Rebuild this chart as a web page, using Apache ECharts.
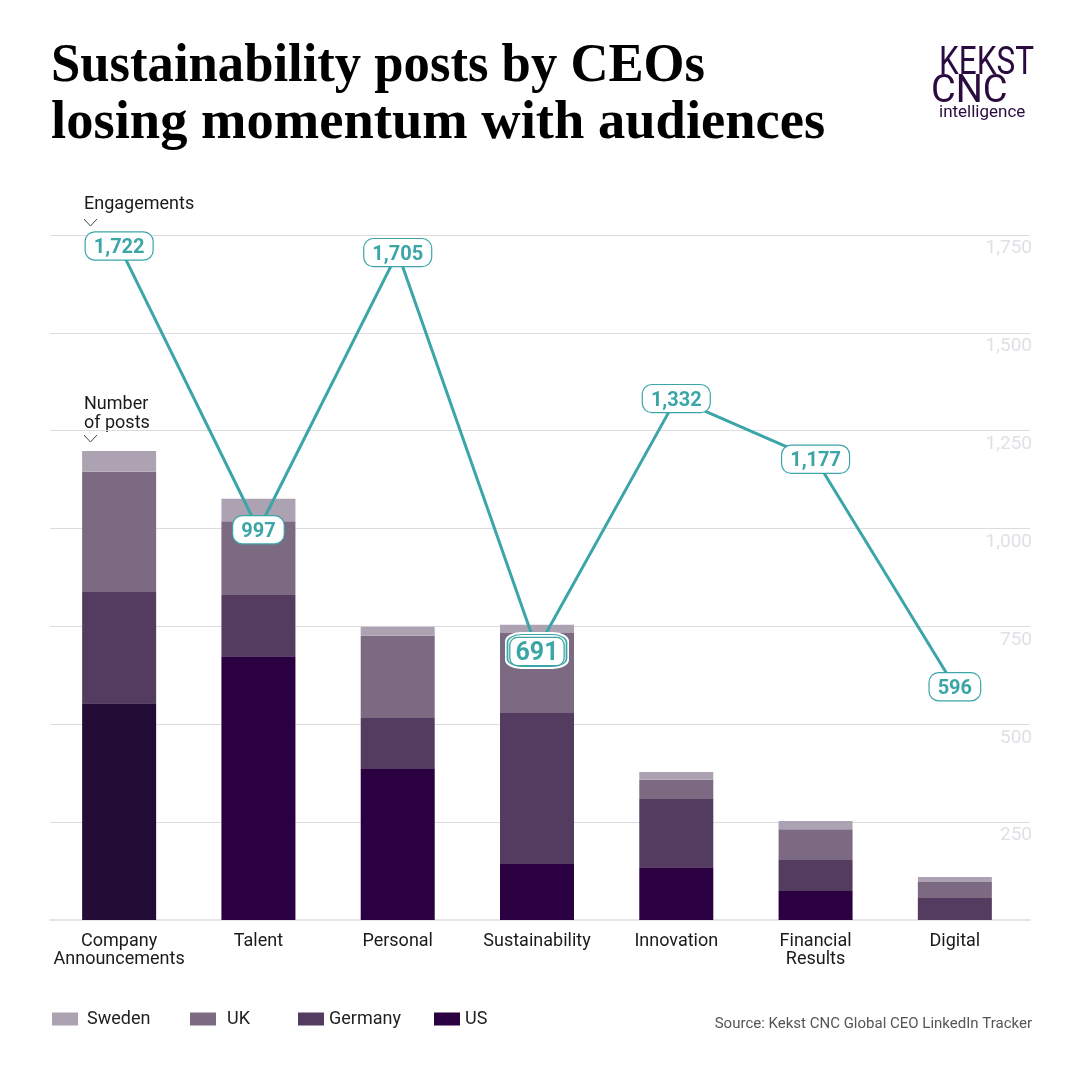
<!DOCTYPE html>
<html>
<head>
<meta charset="utf-8">
<style>
  html, body { margin: 0; padding: 0; background: #fff; }
  #chart { width: 1080px; height: 1080px; }
</style>
<script src="https://cdn.jsdelivr.net/npm/echarts@6/dist/echarts.min.js"></script>
</head>
<body>
<div id="chart"></div>
<script>
var categories = ['Company\nAnnouncements', 'Talent', 'Personal', 'Sustainability', 'Innovation', 'Financial\nResults', 'Digital'];
var usPosts = [554, 674, 386, 143, 135, 74, 0];
var germanyPosts = [286, 156, 130, 386, 174, 79, 56];
var ukPosts = [305, 189, 210, 204, 49, 79, 41];
var swedenPosts = [53, 57, 23, 21, 20, 21, 13];
var engagements = [1722, 997, 1705, 691, 1332, 1177, 596];
var highlighted = ['-', '-', '-', 691, '-', '-', '-'];
var axisTicks = [0, 250, 500, 750, 1000, 1250, 1500, 1750];

var TEAL = '#3ba5a8';
var myChart = echarts.init(document.getElementById('chart'), null, { renderer: 'canvas' });

function barSeries(name, data, color) {
  return {
    type: 'bar', name: name, stack: 'posts', data: data, barWidth: 74,
    xAxisIndex: 0, yAxisIndex: 0, itemStyle: { color: color }, z: 2
  };
}

function legendItem(name, left, textGap) {
  return {
    data: [name], left: left, top: 1010, padding: 0, itemWidth: 26, itemHeight: 13, icon: 'rect',
    selectedMode: false,
    textStyle: { fontFamily: 'Roboto', fontSize: 18, color: '#222', padding: [3, 0, 0, textGap] }
  };
}

function textEl(text, x, y, size, opts) {
  return {
    type: 'text', x: x, y: y, scaleX: (opts && opts.scaleX) || 1,
    style: {
      text: text, fontFamily: (opts && opts.family) || 'Roboto', fontSize: size,
      fontWeight: (opts && opts.weight) || 400, fill: (opts && opts.color) || '#1a1a1a',
      align: (opts && opts.align) || 'left', verticalAlign: 'middle', lineHeight: opts && opts.lineHeight
    }
  };
}

function chevron(x, y) {
  return {
    type: 'polyline',
    shape: { points: [[x, y], [x + 6.5, y + 7], [x + 13, y]] },
    style: { stroke: '#444', lineWidth: 1, fill: null }
  };
}

var usBars = usPosts.map(function (v, i) {
  return i === 0 ? { value: v, itemStyle: { color: '#230c35' } } : v;
});

// first pill sits a little left of its point in the original
var lineData = engagements.map(function (v, i) {
  return i === 0 ? { value: v, label: { offset: [-2, 1] } } : v;
});

var option = {
  backgroundColor: '#fff',
  animation: false,
  legend: [legendItem('Sweden', 52, 4), legendItem('UK', 190, 6), legendItem('Germany', 298, 0), legendItem('US', 434, 0)],
  grid: [
    { left: 49.5, right: 55.5, top: 235, bottom: 160 },
    { left: 50, right: 50, top: 235, bottom: 160 }
  ],
  xAxis: [
    {
      type: 'category', gridIndex: 0, data: categories,
      axisLine: { show: false }, axisTick: { show: false },
      axisLabel: { fontFamily: 'Roboto', fontSize: 18, color: '#1a1a1a', lineHeight: 18, margin: 12, interval: 0 }
    },
    {
      type: 'category', gridIndex: 1, data: categories,
      axisLine: { show: true, lineStyle: { color: '#e6e6ea', width: 2 } },
      axisTick: { show: false }, axisLabel: { show: false }
    }
  ],
  yAxis: [
    {
      type: 'value', gridIndex: 0, min: 0, max: 1750, interval: 250,
      axisLine: { show: false }, axisTick: { show: false },
      axisLabel: { show: false }, splitLine: { show: false }
    },
    {
      type: 'value', gridIndex: 1, min: 0, max: 1750, interval: 250, position: 'right',
      axisLine: { show: false }, axisTick: { show: false },
      splitLine: { show: true, lineStyle: { color: '#dcdcdf', width: 1 } },
      axisLabel: {
        inside: true, margin: -2, fontFamily: 'Roboto', fontSize: 19, color: '#e0e0e6',
        align: 'right', verticalAlign: 'top', padding: [4, 0, 0, 0],
        formatter: function (v) {
          return axisTicks.indexOf(v) > 0 ? v.toLocaleString('en-US') : '';
        }
      }
    }
  ],
  series: [
    barSeries('US', usBars, '#2a0040'),
    barSeries('Germany', germanyPosts, '#533c60'),
    barSeries('UK', ukPosts, '#7b6a82'),
    barSeries('Sweden', swedenPosts, '#aca2b2'),
    {
      type: 'line', name: 'Engagements', data: lineData, z: 5,
      xAxisIndex: 0, yAxisIndex: 0, symbol: 'circle', symbolSize: 1, showSymbol: true, showAllSymbol: true,
      itemStyle: { color: TEAL },
      lineStyle: { color: TEAL, width: 3 },
      labelLayout: { hideOverlap: false },
      label: {
        show: true, position: 'inside', offset: [0, 1],
        backgroundColor: '#fff', borderColor: TEAL, borderWidth: 1.2, borderRadius: 9, padding: [0, 8, 0, 8],
        rich: {
          v: { fontFamily: 'Roboto', fontWeight: 700, fontSize: 20, color: TEAL, height: 23, padding: [4, 0, 0, 0], verticalAlign: 'bottom' }
        },
        formatter: function (p) { return '{v|' + p.value.toLocaleString('en-US') + '}'; }
      }
    },
    {
      // white ring under the double pill
      type: 'scatter', name: 'Halo', data: highlighted, z: 6,
      xAxisIndex: 0, yAxisIndex: 0, symbol: 'roundRect', symbolSize: [64, 37], symbolOffset: [0, 1],
      itemStyle: { color: '#fff', opacity: 1 }
    },
    {
      type: 'scatter', name: 'Highlight', data: highlighted, z: 7,
      xAxisIndex: 0, yAxisIndex: 0, symbol: 'roundRect', symbolSize: [59, 32], symbolOffset: [0, 1],
      itemStyle: { color: '#fff', borderColor: TEAL, borderWidth: 1.3, opacity: 1 },
      label: {
        show: true, position: 'inside', offset: [0, 1],
        backgroundColor: '#fff', borderColor: TEAL, borderWidth: 1.3, borderRadius: 7, padding: [0, 5, 0, 5],
        rich: {
          v: { fontFamily: 'Roboto', fontWeight: 700, fontSize: 25, color: TEAL, height: 23, padding: [4, 0, 0, 0], verticalAlign: 'bottom' }
        },
        formatter: function (p) { return '{v|' + p.value + '}'; }
      }
    }
  ],
  graphic: [
    textEl('Sustainability posts by CEOs', 51, 67, 54, { family: 'Liberation Serif', weight: 700, color: '#000', scaleX: 0.975 }),
    textEl('losing momentum with audiences', 51, 124, 54, { family: 'Liberation Serif', weight: 700, color: '#000', scaleX: 1.01 }),
    textEl('KEKST', 939, 64, 38, { color: '#2a0a3f', scaleX: 0.83 }),
    textEl('CNC', 931, 92, 38, { color: '#2a0a3f', scaleX: 1 }),
    textEl('intelligence', 939, 113, 17, { color: '#2a0a3f' }),
    textEl('Engagements', 84, 204, 18),
    chevron(84, 219),
    textEl('Number\nof posts', 84, 414, 18, { lineHeight: 19 }),
    chevron(84, 435),
    textEl('Source: Kekst CNC Global CEO LinkedIn Tracker', 1032, 1024, 15, { align: 'right', color: '#555' })
  ]
};

myChart.setOption(option);
</script>
</body>
</html>
